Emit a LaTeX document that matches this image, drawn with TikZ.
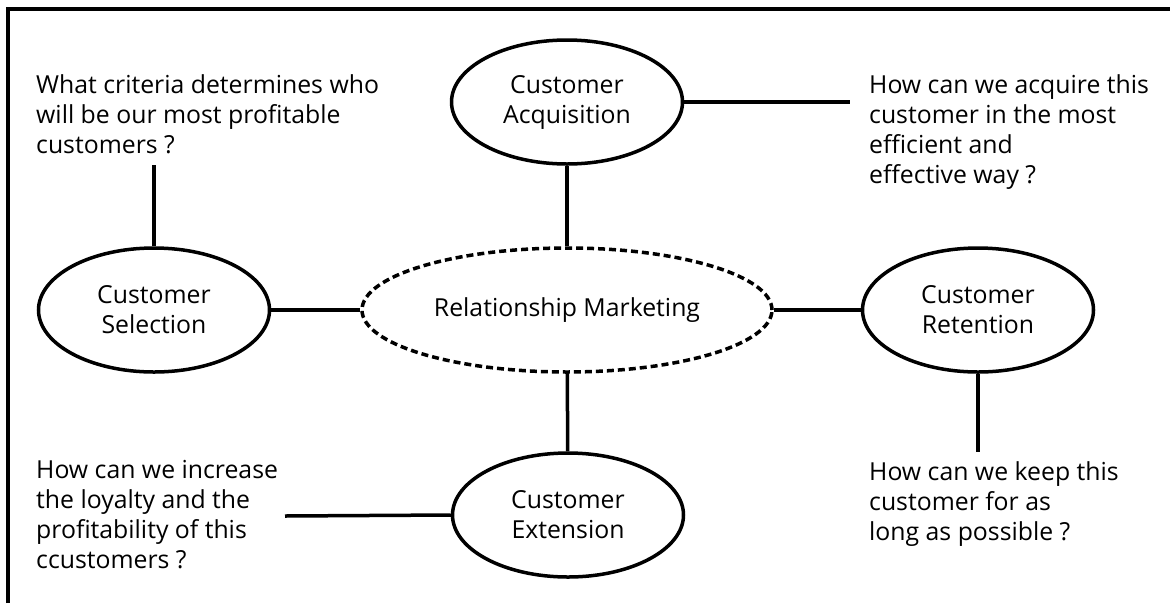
\documentclass[tikz,border=0pt]{standalone}
\usepackage{fontspec}
\setmainfont{Open Sans}
\usetikzlibrary{shapes.geometric}
\begin{document}
\begin{tikzpicture}[x=1pt,y=-1pt,
  lw/.style={line width=3.5pt},
  oval/.style={ellipse, draw, line width=3.5pt, minimum width=231pt, minimum height=124pt, inner sep=0pt, align=center, font=\fontsize{24.8}{30}\selectfont},
  doval/.style={oval, dash pattern=on 7pt off 4pt, minimum width=410pt},
  qtext/.style={anchor=base west, inner sep=0pt, align=left, font=\fontsize{24.8}{30}\selectfont}]
\useasboundingbox (0,0) rectangle (1170,603);
\draw[line width=3.5pt] (8,603) -- (8,9) -- (1170,9);
\node[doval] (rm) at (567,310) {Relationship Marketing};
\node[oval] (acq) at (567,102) {Customer\\Acquisition};
\node[oval] (sel) at (154,310) {Customer\\Selection};
\node[oval] (ret) at (978,310) {Customer\\Retention};
\node[oval] (ext) at (568,515) {Customer\\Extension};
% base anchor = last line baseline
\node[qtext] (q1) at (36,153) {What criteria determines who\\will be our most profitable\\customers ?};
\node[qtext] (q2) at (869,183) {How can we acquire this\\customer in the most\\efficient and\\effective way ?};
\node[qtext] (q3) at (36,568) {How can we increase\\the loyalty and the\\profitability of this\\ccustomers ?};
\node[qtext] (q4) at (869,540) {How can we keep this\\customer for as\\long as possible ?};
\coordinate (c1) at (154,165);
\coordinate (c2) at (850,102);
\coordinate (c3) at (285,516);
\coordinate (c4) at (978,452);
\draw[lw] (acq) -- (rm);
\draw[lw] (sel) -- (rm);
\draw[lw] (rm) -- (ret);
\draw[lw] (rm) -- (ext);
\draw[lw] (sel.north) -- (c1);
\draw[lw] (acq.east) -- (c2);
\draw[lw] (ext.west) -- (c3);
\draw[lw] (ret.south) -- (c4);
\end{tikzpicture}
\end{document}
